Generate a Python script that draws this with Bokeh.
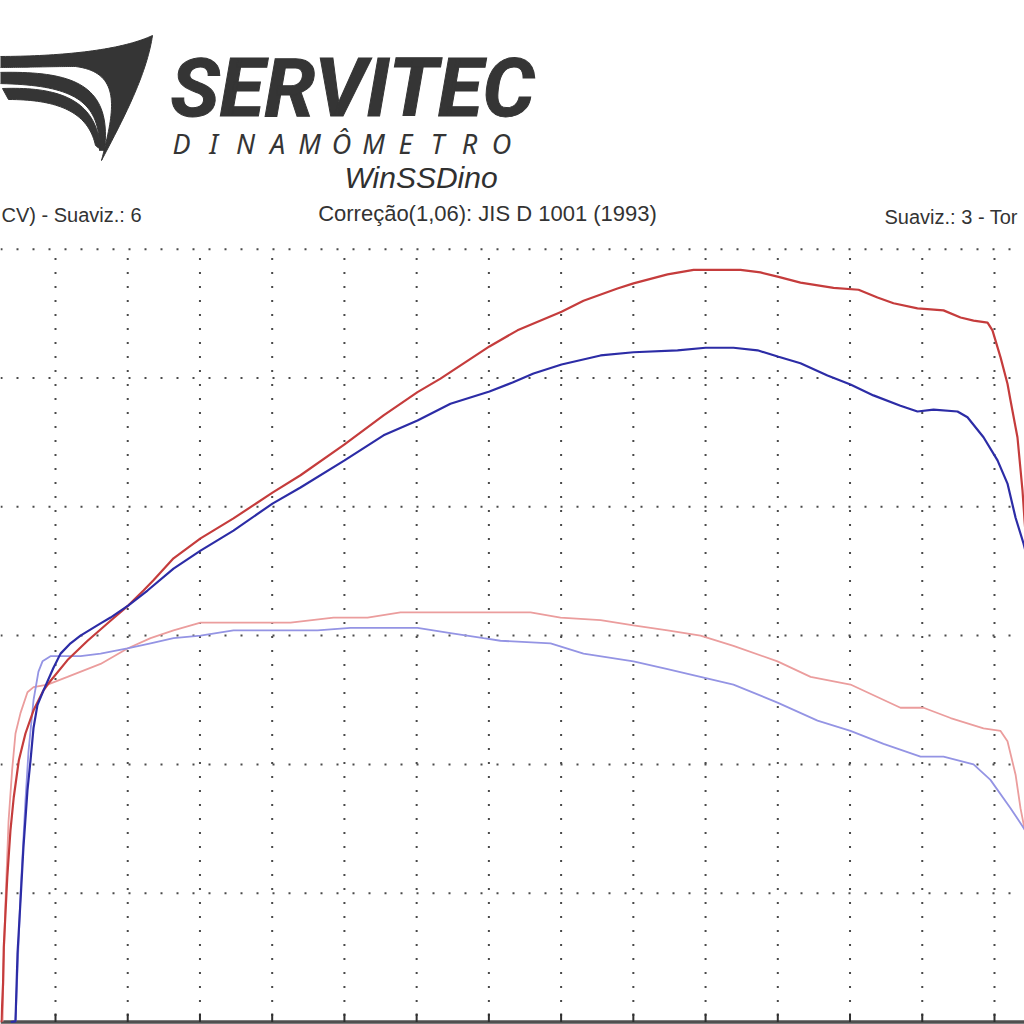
import numpy as np
from bokeh.plotting import figure
from bokeh.models import Range1d
from bokeh.core.properties import value
from bokeh.embed import file_html
from bokeh.resources import INLINE

# ---------------- data ----------------
rpm_ticks = [1500, 2000, 2500, 3000, 3500, 4000, 4500, 5000, 5500, 6000, 6500, 7000, 7500, 8000]
cv_ticks = [20, 40, 60, 80, 100, 120]

rpm_power_red = [1119, 1126, 1137, 1142, 1166, 1188, 1211, 1246, 1292, 1348, 1417, 1452, 1583, 1722, 1881,
                 2005, 2109, 2178, 2317, 2504, 2732, 3002, 3196, 3501, 3771, 4006, 4165, 4504, 4698,
                 5003, 5155, 5390, 5501, 5737, 5917, 6242, 6380, 6505, 6657, 6886, 7059, 7190, 7301,
                 7467, 7647, 7765, 7855, 7952, 7986, 8042, 8090, 8111, 8159, 8194, 8208, 8250]
cv_power_red = [0.0, 0.2, 6.0, 11.6, 22.4, 29.7, 34.9, 40.6, 44.8, 48.4, 51.5, 52.6, 56.2, 59.2, 62.3,
                64.7, 67.0, 68.6, 72.0, 75.1, 78.2, 82.2, 84.9, 89.7, 94.2, 97.8, 99.9, 104.9, 107.4,
                110.3, 112.0, 113.9, 114.7, 116.1, 116.8, 116.8, 116.4, 115.7, 114.8, 114.0, 113.7,
                112.5, 111.6, 110.8, 110.5, 109.4, 108.9, 108.6, 107.4, 103.2, 99.1, 96.5, 90.8,
                82.5, 77.9, 65.5]

rpm_power_blue = [1190, 1223, 1237, 1258, 1278, 1306, 1327, 1348, 1375, 1417, 1486, 1535, 1604, 1673, 1812,
                  1881, 2005, 2137, 2317, 2504, 2732, 3002, 3196, 3501, 3771, 4006, 4234, 4504, 4664,
                  4809, 5003, 5273, 5501, 5806, 6000, 6193, 6360, 6505, 6657, 6844, 7003, 7162, 7349,
                  7467, 7578, 7744, 7813, 7924, 8021, 8090, 8146, 8201, 8250]
cv_power_blue = [0.0, 0.1, 10.6, 18.9, 27.1, 36.0, 40.6, 45.7, 49.2, 51.5, 55.0, 57.2, 58.8, 60.0, 61.9,
                 62.8, 64.7, 67.0, 70.4, 73.2, 76.3, 80.5, 83.0, 87.2, 91.1, 93.4, 96.0, 97.9, 99.3,
                 100.7, 102.1, 103.5, 104.0, 104.3, 104.7, 104.7, 104.3, 103.3, 102.3, 100.4, 99.0,
                 97.3, 95.7, 94.8, 95.1, 94.8, 93.9, 90.8, 87.2, 83.6, 78.3, 74.3, 70.1]

rpm_torque_red = [1134, 1140, 1154, 1175, 1200, 1223, 1258, 1306, 1348, 1445, 1583, 1812, 1998, 2158,
                  2317, 2504, 2732, 2968, 3127, 3424, 3660, 3888, 4352, 4788, 4996, 5273, 5501, 5737,
                  5965, 6193, 6498, 6727, 7003, 7349, 7509, 7696, 7924, 8042, 8090, 8146, 8180, 8250]
kgfm_torque_red = [0.02, 2.1, 4.7, 7.8, 9.8, 11.2, 12.0, 12.8, 13.0, 13.1, 13.4, 13.9, 14.5, 14.9,
                   15.2, 15.5, 15.5, 15.5, 15.5, 15.7, 15.7, 15.9, 15.9, 15.9, 15.7, 15.6, 15.4, 15.2,
                   15.0, 14.6, 14.0, 13.4, 13.1, 12.2, 12.2, 11.8, 11.4, 11.3, 10.9, 9.6, 8.3, 6.3]

rpm_torque_blue = [1223, 1258, 1292, 1313, 1348, 1382, 1410, 1465, 1673, 1812, 1998, 2158, 2317, 2504,
                   2732, 2968, 3314, 3542, 3771, 4006, 4234, 4463, 4580, 4927, 5155, 5501, 5737, 5965,
                   6193, 6498, 6775, 7003, 7232, 7488, 7647, 7855, 7972, 8111, 8194, 8250]
kgfm_torque_blue = [0.02, 5.0, 8.6, 10.5, 12.5, 13.6, 14.0, 14.2, 14.2, 14.3, 14.5, 14.7, 14.9, 15.0,
                    15.2, 15.2, 15.2, 15.3, 15.3, 15.3, 15.1, 14.9, 14.8, 14.7, 14.3, 14.0, 13.7, 13.4,
                    13.1, 12.4, 11.7, 11.3, 10.8, 10.3, 10.3, 10.0, 9.4, 8.3, 7.6, 7.1]

header_left = "CV) - Suaviz.: 6"
header_mid = "Correção(1,06): JIS D 1001 (1993)"
header_right = "Suaviz.: 3 - Tor"
brand = "SERVITEC"
brand_sub = "DINAMÔMETRO"
software = "WinSSDino"

# ---------------- layout (screen geometry of the reference) ----------------
W = H = 1024
GRID0_PX = 55.0         # x pixel of first rpm tick
PX_PER_RPM_STEP = 72.23 # pixels per 500 rpm
AXIS_PX = 1021.5        # y pixel of 0
PX_PER_CV_STEP = 128.8  # pixels per 20 CV
TQ_PER_CV = 5.0 / 20.0  # torque scale relative to power scale


def px_x(px):
    return rpm_ticks[0] + (px - GRID0_PX) * 500.0 / PX_PER_RPM_STEP


def px_y(py):
    return (AXIS_PX - py) * 20.0 / PX_PER_CV_STEP


x0, x1 = px_x(0), px_x(W)
y0, y1 = px_y(H), px_y(0)

p = figure(width=W, height=H, x_range=Range1d(x0, x1), y_range=Range1d(y0, y1),
           output_backend="svg", toolbar_location=None,
           x_axis_location=None, y_axis_location=None, min_border=0,
           background_fill_color="white", border_fill_color="white")
p.outline_line_color = None
p.xgrid.visible = False
p.ygrid.visible = False
p.extra_y_ranges = {"tq": Range1d(y0 * TQ_PER_CV, y1 * TQ_PER_CV)}

GRID_COLOR = "#4a4a4a"
# horizontal dotted grid lines
p.segment(x0=[x0] * len(cv_ticks), x1=[x1] * len(cv_ticks), y0=cv_ticks, y1=cv_ticks,
          line_color=GRID_COLOR, line_width=2, line_dash="2 14")
# vertical dotted grid lines
p.segment(x0=rpm_ticks, x1=rpm_ticks, y0=[0] * len(rpm_ticks), y1=[cv_ticks[-1]] * len(rpm_ticks),
          line_color=GRID_COLOR, line_width=2, line_dash="2 12", line_dash_offset=8)

# bottom axis line with ticks
tick_top = px_y(1013)
p.segment(x0=[x0], x1=[x1], y0=[0], y1=[0], line_color="#505050", line_width=3.5)
p.segment(x0=rpm_ticks, x1=rpm_ticks, y0=[0] * len(rpm_ticks), y1=[tick_top] * len(rpm_ticks),
          line_color="#303030", line_width=2)

# curves
p.line(rpm_torque_red, kgfm_torque_red, y_range_name="tq", line_color="#eb9d9d", line_width=1.8)
p.line(rpm_torque_blue, kgfm_torque_blue, y_range_name="tq", line_color="#9494e4", line_width=1.8)
p.line(rpm_power_red, cv_power_red, line_color="#c53c3c", line_width=2.2)
p.line(rpm_power_blue, cv_power_blue, line_color="#2c2ca6", line_width=2.2)

# ---------------- logo ----------------
LOGO = "#353535"


def cubic(a, b, c, d, n=40):
    t = np.linspace(0, 1, n)[:, None]
    a, b, c, d = map(np.array, (a, b, c, d))
    return (1 - t) ** 3 * a + 3 * (1 - t) ** 2 * t * b + 3 * (1 - t) * t ** 2 * c + t ** 3 * d


def band(*segs):
    pts = np.vstack([cubic(*s) for s in segs])
    return [px_x(v) for v in pts[:, 0]], [px_y(v) for v in pts[:, 1]]


bands = [
    band(((-5, 56), (60, 56), (120, 50), (152, 35)),
         ((152, 35), (146, 75), (122, 120), (101, 160)),
         ((101, 160), (114, 110), (122, 72), (75, 66)),
         ((75, 66), (50, 66), (20, 67), (-5, 67))),
    band(((-5, 72), (70, 70), (112, 82), (104, 150)),
         ((104, 150), (104, 150), (100, 150), (99, 150)),
         ((99, 150), (100, 98), (70, 84), (-5, 83))),
    band(((2, 88), (60, 86), (96, 100), (100, 148)),
         ((100, 148), (98, 148), (96, 146), (95, 145)),
         ((95, 145), (88, 113), (60, 99), (8, 99))),
]
for bx, by in bands:
    p.patch(bx, by, fill_color=LOGO, line_color=LOGO, line_width=1)

p.text(x=[px_x(170)], y=[px_y(87)], text=[brand], text_font=value("Roboto"),
       text_font_style="bold italic", text_font_size="82px", text_color=LOGO,
       text_outline_color=LOGO, text_baseline="middle", text_align="left")

sub_letters = list(brand_sub)
p.text(x=[px_x(181 + i * 32.0) for i in range(len(sub_letters))], y=[px_y(143)] * len(sub_letters),
       text=sub_letters, text_font=value("Noto Sans"), text_font_style="italic", text_font_size="27px",
       text_color=LOGO, text_baseline="middle", text_align="center")

p.text(x=[px_x(344)], y=[px_y(177)], text=[software], text_font=value("Liberation Sans"),
       text_font_style="italic", text_font_size="30px", text_color="#303030",
       text_baseline="middle", text_align="left")

# ---------------- header line ----------------
hdr = dict(text_font=value("Liberation Sans"), text_color="#333333", text_baseline="middle")
p.text(x=[px_x(1)], y=[px_y(214)], text=[header_left], text_align="left", text_font_size="20px", **hdr)
p.text(x=[px_x(487)], y=[px_y(213)], text=[header_mid], text_align="center", text_font_size="22px", **hdr)
p.text(x=[px_x(884)], y=[px_y(216)], text=[header_right], text_align="left", text_font_size="20px", **hdr)

open("out.html", "w").write(file_html(p, INLINE))
